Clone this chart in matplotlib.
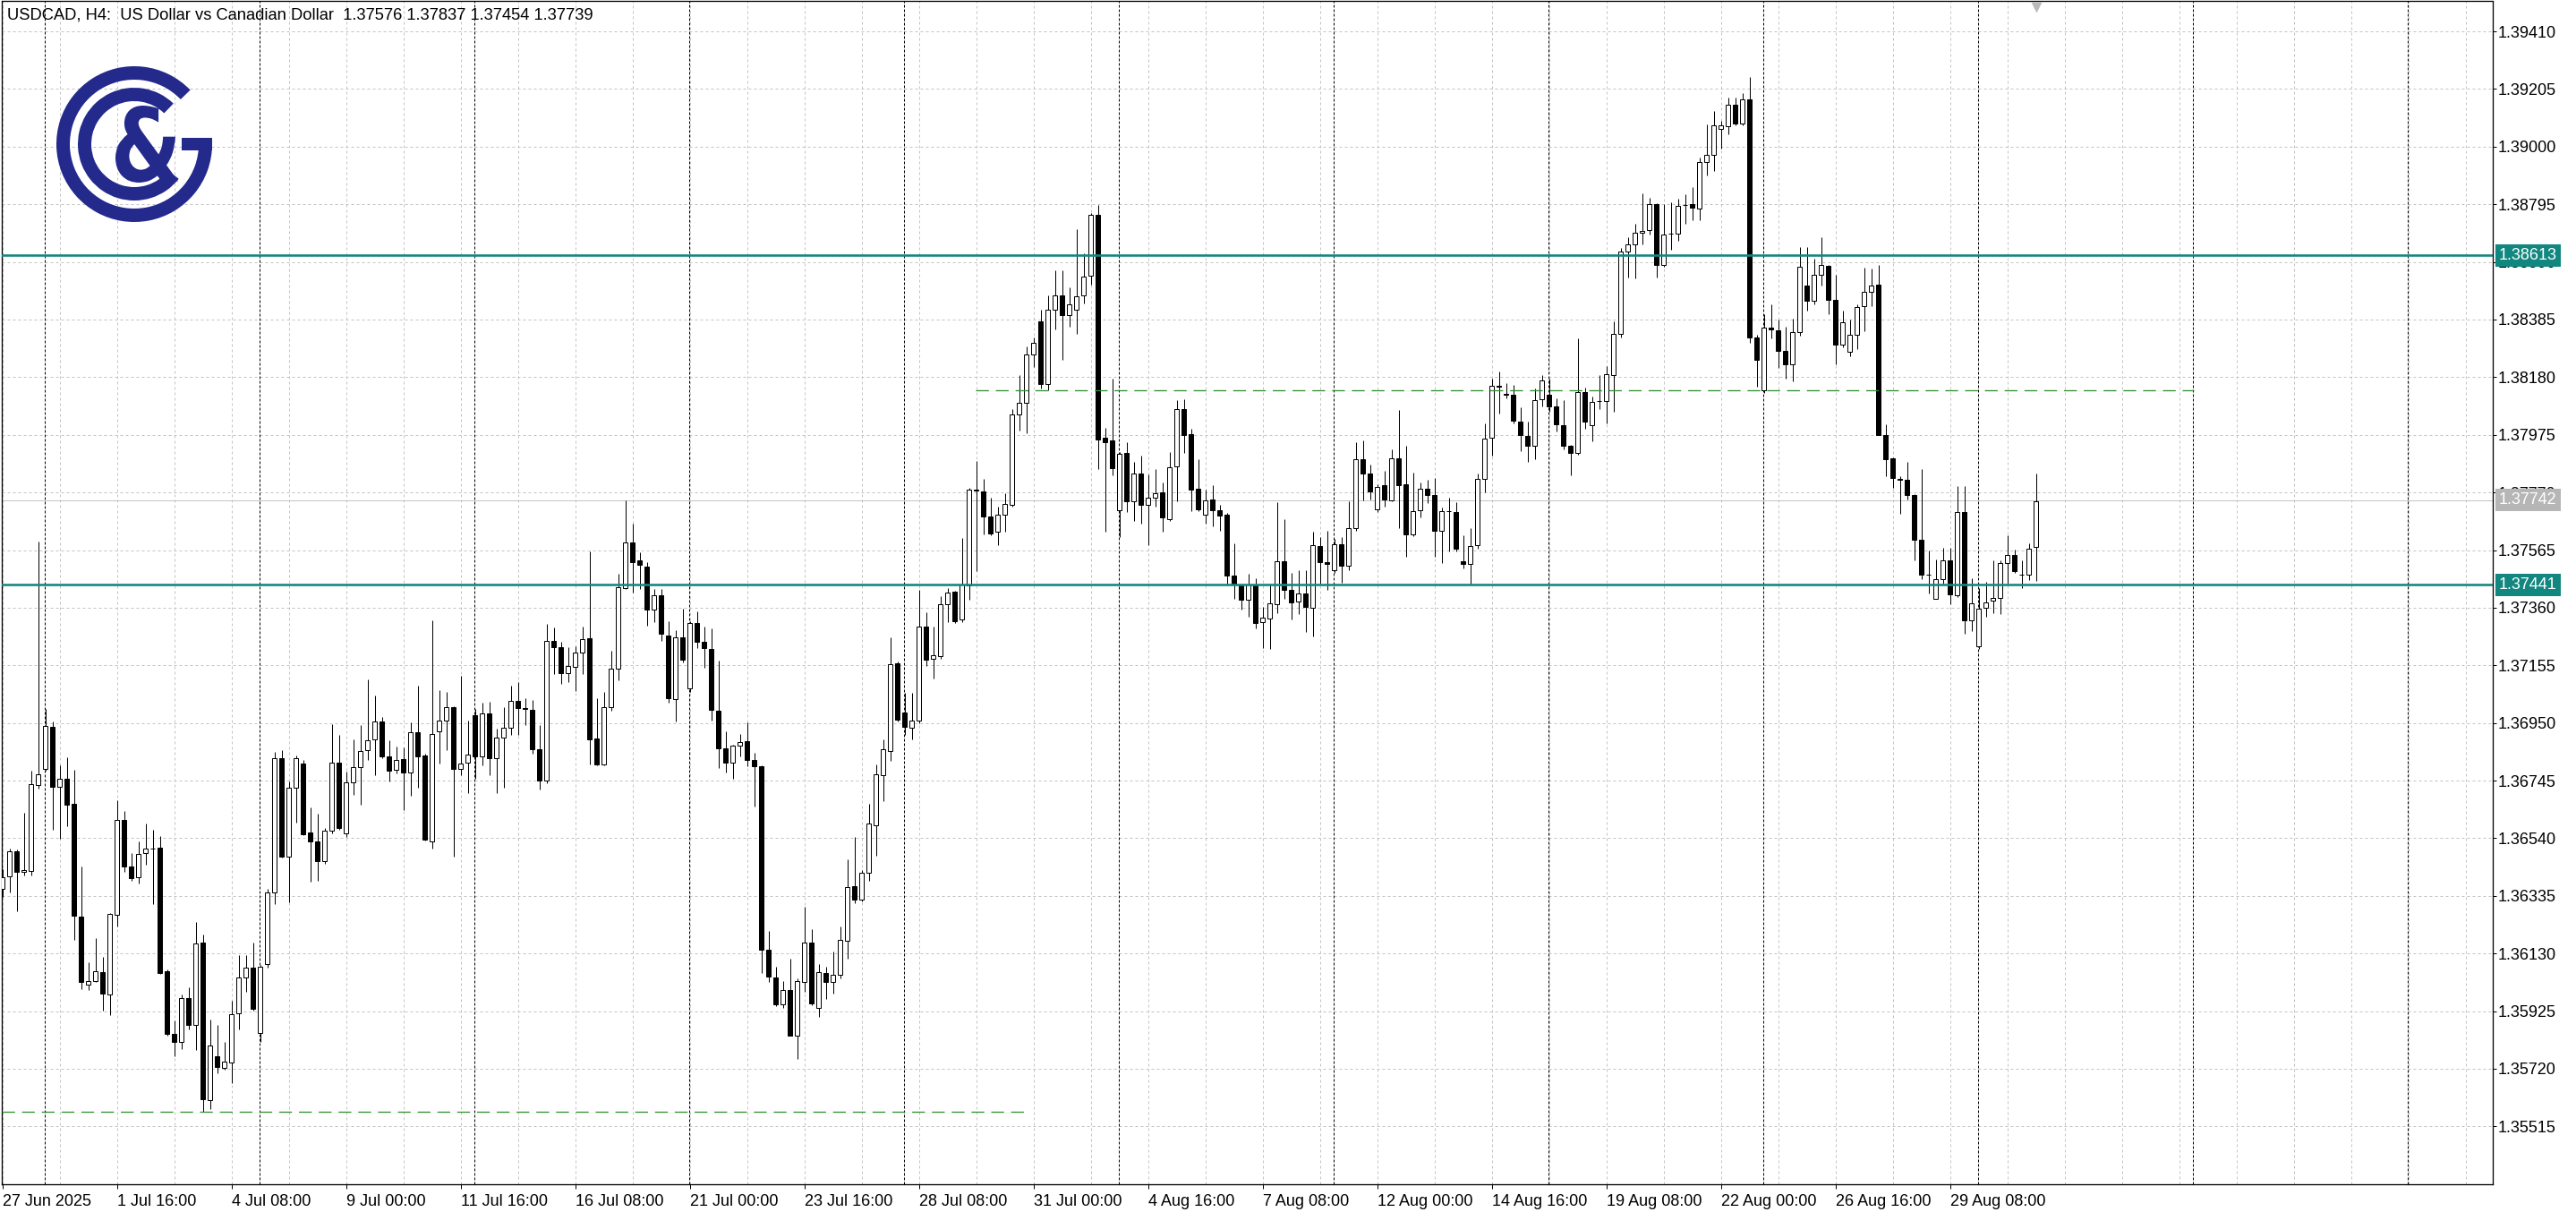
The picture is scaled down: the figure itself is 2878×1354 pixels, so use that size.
import matplotlib
matplotlib.use('Agg')
import matplotlib.pyplot as plt
import numpy as np
from matplotlib.patches import Wedge, Rectangle, PathPatch
from matplotlib.textpath import TextPath
from matplotlib.font_manager import FontProperties
import matplotlib.transforms as mtransforms

plt.rcParams['font.family'] = ['Liberation Sans', 'DejaVu Sans']

# ---------------- data ----------------
title = "USDCAD, H4:  US Dollar vs Canadian Dollar  1.37576 1.37837 1.37454 1.37739"

opens = [
1.36360, 1.36403, 1.36495, 1.36419, 1.36425, 1.36728, 1.36788, 1.36936, 1.36723, 1.36752,
1.36662, 1.36261, 1.36020, 1.36033, 1.36063, 1.35985, 1.36269, 1.36604, 1.36440, 1.36400,
1.36486, 1.36504, 1.36506, 1.36068, 1.35843, 1.35816, 1.35972, 1.35877, 1.36170, 1.35608,
1.35764, 1.35723, 1.35743, 1.35916, 1.36044, 1.36080, 1.35847, 1.36093, 1.36348, 1.36826,
1.36474, 1.36719, 1.36806, 1.36559, 1.36528, 1.36460, 1.36568, 1.36808, 1.36556, 1.36738,
1.36793, 1.36852, 1.36891, 1.36954, 1.36830, 1.36784, 1.36821, 1.36774, 1.36916, 1.36835,
1.36529, 1.36919, 1.36958, 1.37007, 1.36786, 1.36808, 1.36977, 1.36832, 1.36984, 1.36826,
1.36898, 1.36933, 1.37028, 1.37003, 1.36996, 1.36856, 1.36746, 1.37242, 1.37221, 1.37126,
1.37150, 1.37199, 1.37252, 1.36895, 1.36804, 1.37005, 1.37143, 1.37431, 1.37591, 1.37528,
1.37507, 1.37353, 1.37403, 1.37262, 1.37035, 1.37256, 1.37073, 1.37304, 1.37238, 1.37213,
1.36995, 1.36861, 1.36809, 1.36869, 1.36885, 1.36817, 1.36797, 1.36142, 1.36044, 1.35949,
1.35999, 1.35836, 1.36029, 1.36170, 1.35935, 1.36061, 1.36029, 1.36053, 1.36176, 1.36369,
1.36322, 1.36416, 1.36587, 1.36763, 1.36851, 1.37162, 1.36987, 1.36932, 1.36957, 1.37293,
1.37178, 1.37187, 1.37372, 1.37416, 1.37318, 1.37439, 1.37780, 1.37775, 1.37684, 1.37629,
1.37691, 1.37725, 1.38046, 1.38088, 1.38262, 1.38380, 1.38155, 1.38420, 1.38470, 1.38400,
1.38421, 1.38472, 1.38541, 1.38756, 1.37964, 1.37955, 1.37708, 1.37910, 1.37740, 1.37836,
1.37727, 1.37750, 1.37771, 1.37676, 1.37864, 1.38066, 1.37977, 1.37784, 1.37691, 1.37745,
1.37706, 1.37691, 1.37475, 1.37439, 1.37389, 1.37441, 1.37308, 1.37322, 1.37373, 1.37526,
1.37424, 1.37382, 1.37411, 1.37361, 1.37580, 1.37521, 1.37492, 1.37586, 1.37509, 1.37642,
1.37888, 1.37836, 1.37710, 1.37796, 1.37742, 1.37890, 1.37799, 1.37621, 1.37708, 1.37782,
1.37761, 1.37633, 1.37705, 1.37700, 1.37526, 1.37517, 1.37583, 1.37819, 1.37966, 1.38149,
1.38120, 1.38117, 1.38023, 1.37972, 1.37935, 1.38102, 1.38117, 1.38077, 1.38010, 1.37937,
1.37912, 1.38127, 1.38010, 1.38094, 1.38094, 1.38189, 1.38333, 1.38626, 1.38652, 1.38693,
1.38702, 1.38796, 1.38580, 1.38692, 1.38692, 1.38792, 1.38796, 1.38781, 1.38947, 1.38970,
1.39063, 1.39073, 1.39148, 1.39082, 1.39167, 1.38322, 1.38133, 1.38356, 1.38347, 1.38272,
1.38226, 1.38339, 1.38506, 1.38451, 1.38544, 1.38576, 1.38454, 1.38295, 1.38270, 1.38331,
1.38432, 1.38483, 1.38509, 1.37975, 1.37890, 1.37818, 1.37814, 1.37760, 1.37603, 1.37476,
1.37391, 1.37461, 1.37527, 1.37404, 1.37700, 1.37314, 1.37222, 1.37359, 1.37384, 1.37394,
1.37519, 1.37548, 1.37477, 1.37477, 1.37576]

highs = [
1.36430, 1.36502, 1.36500, 1.36632, 1.36780, 1.37594, 1.36999, 1.36954, 1.36798, 1.36828,
1.36784, 1.36439, 1.36099, 1.36185, 1.36118, 1.36275, 1.36674, 1.36638, 1.36486, 1.36528,
1.36592, 1.36571, 1.36548, 1.36072, 1.35893, 1.35984, 1.36011, 1.36242, 1.36197, 1.35895,
1.35875, 1.35814, 1.35962, 1.36124, 1.36124, 1.36169, 1.36090, 1.36360, 1.36848, 1.36854,
1.36741, 1.36833, 1.36818, 1.36650, 1.36626, 1.36575, 1.36946, 1.36906, 1.36778, 1.36893,
1.36944, 1.37105, 1.37047, 1.36972, 1.36888, 1.36866, 1.36863, 1.36951, 1.37084, 1.36840,
1.37315, 1.37066, 1.37059, 1.37010, 1.37119, 1.36958, 1.37000, 1.37021, 1.37024, 1.36930,
1.37006, 1.37082, 1.37096, 1.37038, 1.37031, 1.36944, 1.37301, 1.37291, 1.37238, 1.37221,
1.37224, 1.37294, 1.37560, 1.37038, 1.37059, 1.37206, 1.37480, 1.37742, 1.37658, 1.37557,
1.37521, 1.37427, 1.37427, 1.37311, 1.37280, 1.37357, 1.37311, 1.37346, 1.37294, 1.37287,
1.37172, 1.36920, 1.36872, 1.36910, 1.36952, 1.36843, 1.36800, 1.36209, 1.36083, 1.36033,
1.36112, 1.36040, 1.36296, 1.36217, 1.36091, 1.36083, 1.36138, 1.36226, 1.36464, 1.36545,
1.36427, 1.36663, 1.36802, 1.36893, 1.37254, 1.37170, 1.37058, 1.37058, 1.37422, 1.37343,
1.37293, 1.37402, 1.37431, 1.37420, 1.37607, 1.37785, 1.37881, 1.37819, 1.37752, 1.37721,
1.37768, 1.38066, 1.38188, 1.38290, 1.38320, 1.38420, 1.38470, 1.38560, 1.38560, 1.38500,
1.38708, 1.38620, 1.38764, 1.38793, 1.38000, 1.38174, 1.37915, 1.37950, 1.37879, 1.37901,
1.37833, 1.37854, 1.37805, 1.37913, 1.38097, 1.38102, 1.37995, 1.37888, 1.37779, 1.37796,
1.37725, 1.37697, 1.37589, 1.37441, 1.37481, 1.37464, 1.37362, 1.37447, 1.37734, 1.37674,
1.37484, 1.37492, 1.37492, 1.37629, 1.37612, 1.37634, 1.37606, 1.37612, 1.37739, 1.37950,
1.37955, 1.37870, 1.37800, 1.37847, 1.37922, 1.38064, 1.37935, 1.37842, 1.37807, 1.37816,
1.37822, 1.37715, 1.37752, 1.37736, 1.37617, 1.37643, 1.37837, 1.38017, 1.38176, 1.38199,
1.38159, 1.38151, 1.38073, 1.38023, 1.38139, 1.38186, 1.38176, 1.38105, 1.38098, 1.37940,
1.38318, 1.38142, 1.38111, 1.38186, 1.38220, 1.38379, 1.38639, 1.38677, 1.38727, 1.38834,
1.38818, 1.38800, 1.38796, 1.38803, 1.38815, 1.38830, 1.38855, 1.38960, 1.39079, 1.39127,
1.39092, 1.39174, 1.39174, 1.39190, 1.39247, 1.38330, 1.38403, 1.38440, 1.38385, 1.38360,
1.38387, 1.38642, 1.38642, 1.38602, 1.38679, 1.38580, 1.38544, 1.38417, 1.38385, 1.38440,
1.38571, 1.38566, 1.38580, 1.38013, 1.37895, 1.37829, 1.37879, 1.37765, 1.37853, 1.37564,
1.37532, 1.37572, 1.37572, 1.37792, 1.37792, 1.37465, 1.37431, 1.37451, 1.37527, 1.37527,
1.37617, 1.37566, 1.37530, 1.37590, 1.37837]

lows = [
1.36330, 1.36348, 1.36279, 1.36409, 1.36409, 1.36715, 1.36780, 1.36571, 1.36537, 1.36583,
1.36178, 1.36003, 1.35999, 1.36029, 1.35928, 1.35911, 1.36226, 1.36421, 1.36390, 1.36380,
1.36445, 1.36307, 1.36056, 1.35839, 1.35765, 1.35790, 1.35861, 1.35786, 1.35567, 1.35575,
1.35703, 1.35715, 1.35670, 1.35859, 1.35993, 1.35928, 1.35816, 1.36080, 1.36307, 1.36470,
1.36312, 1.36595, 1.36550, 1.36385, 1.36388, 1.36450, 1.36558, 1.36570, 1.36543, 1.36693,
1.36658, 1.36818, 1.36765, 1.36825, 1.36742, 1.36770, 1.36639, 1.36690, 1.36721, 1.36532,
1.36504, 1.36807, 1.36853, 1.36473, 1.36763, 1.36700, 1.36753, 1.36800, 1.36763, 1.36700,
1.36721, 1.36909, 1.36909, 1.36942, 1.36840, 1.36714, 1.36734, 1.37124, 1.37089, 1.37096,
1.37063, 1.37124, 1.36802, 1.36800, 1.36800, 1.36993, 1.37101, 1.37427, 1.37413, 1.37427,
1.37297, 1.37308, 1.37241, 1.37021, 1.36956, 1.37165, 1.37060, 1.37217, 1.37145, 1.36958,
1.36789, 1.36775, 1.36752, 1.36831, 1.36797, 1.36654, 1.36061, 1.36028, 1.35944, 1.35935,
1.35836, 1.35755, 1.35994, 1.35945, 1.35903, 1.35969, 1.35986, 1.36040, 1.36112, 1.36310,
1.36315, 1.36389, 1.36478, 1.36671, 1.36814, 1.36955, 1.36906, 1.36890, 1.36950, 1.37153,
1.37108, 1.37178, 1.37310, 1.37305, 1.37310, 1.37389, 1.37491, 1.37620, 1.37617, 1.37583,
1.37629, 1.37720, 1.37990, 1.37982, 1.38217, 1.38140, 1.38133, 1.38350, 1.38242, 1.38360,
1.38333, 1.38441, 1.38509, 1.37852, 1.37629, 1.37830, 1.37612, 1.37700, 1.37668, 1.37659,
1.37583, 1.37720, 1.37629, 1.37668, 1.37737, 1.37910, 1.37702, 1.37705, 1.37659, 1.37651,
1.37634, 1.37444, 1.37390, 1.37353, 1.37328, 1.37288, 1.37216, 1.37214, 1.37339, 1.37390,
1.37319, 1.37337, 1.37273, 1.37257, 1.37447, 1.37424, 1.37484, 1.37450, 1.37492, 1.37632,
1.37742, 1.37745, 1.37700, 1.37720, 1.37737, 1.37642, 1.37540, 1.37615, 1.37680, 1.37733,
1.37541, 1.37520, 1.37560, 1.37560, 1.37501, 1.37444, 1.37570, 1.37771, 1.37901, 1.38052,
1.38104, 1.38017, 1.37916, 1.37878, 1.37887, 1.38076, 1.38058, 1.37988, 1.37922, 1.37830,
1.37905, 1.37995, 1.37951, 1.38067, 1.38017, 1.38058, 1.38320, 1.38536, 1.38532, 1.38652,
1.38686, 1.38536, 1.38572, 1.38633, 1.38664, 1.38727, 1.38740, 1.38740, 1.38899, 1.38912,
1.38994, 1.39044, 1.39075, 1.39075, 1.38303, 1.38146, 1.38125, 1.38318, 1.38214, 1.38174,
1.38166, 1.38329, 1.38417, 1.38440, 1.38506, 1.38403, 1.38226, 1.38286, 1.38255, 1.38281,
1.38343, 1.38432, 1.37975, 1.37829, 1.37787, 1.37694, 1.37744, 1.37527, 1.37461, 1.37412,
1.37391, 1.37447, 1.37371, 1.37399, 1.37267, 1.37277, 1.37213, 1.37327, 1.37341, 1.37338,
1.37447, 1.37485, 1.37429, 1.37458, 1.37454]

closes = [
1.36400, 1.36495, 1.36419, 1.36426, 1.36731, 1.36766, 1.36940, 1.36723, 1.36752, 1.36658,
1.36263, 1.36029, 1.36033, 1.36066, 1.35987, 1.36270, 1.36604, 1.36441, 1.36397, 1.36483,
1.36504, 1.36504, 1.36060, 1.35843, 1.35816, 1.35972, 1.35877, 1.36166, 1.35610, 1.35802,
1.35725, 1.35746, 1.35914, 1.36045, 1.36080, 1.35932, 1.36084, 1.36346, 1.36826, 1.36476,
1.36719, 1.36824, 1.36555, 1.36528, 1.36460, 1.36568, 1.36808, 1.36577, 1.36738, 1.36792,
1.36851, 1.36888, 1.36954, 1.36832, 1.36781, 1.36818, 1.36774, 1.36916, 1.36832, 1.36536,
1.36912, 1.36958, 1.37007, 1.36786, 1.36807, 1.36837, 1.36832, 1.36984, 1.36826, 1.36898,
1.36933, 1.37028, 1.37003, 1.37000, 1.36855, 1.36746, 1.37242, 1.37221, 1.37126, 1.37154,
1.37199, 1.37249, 1.36893, 1.36804, 1.37005, 1.37143, 1.37434, 1.37591, 1.37522, 1.37511,
1.37353, 1.37403, 1.37266, 1.37038, 1.37256, 1.37175, 1.37304, 1.37238, 1.37217, 1.36996,
1.36861, 1.36809, 1.36869, 1.36881, 1.36817, 1.36797, 1.36142, 1.36049, 1.35949, 1.35999,
1.35836, 1.36033, 1.36170, 1.35952, 1.36063, 1.36029, 1.36053, 1.36179, 1.36365, 1.36322,
1.36416, 1.36592, 1.36767, 1.36856, 1.37158, 1.36962, 1.36935, 1.36960, 1.37293, 1.37175,
1.37192, 1.37372, 1.37414, 1.37313, 1.37444, 1.37780, 1.37778, 1.37684, 1.37624, 1.37691,
1.37730, 1.38046, 1.38088, 1.38262, 1.38301, 1.38155, 1.38420, 1.38470, 1.38400, 1.38440,
1.38469, 1.38537, 1.38756, 1.37958, 1.37950, 1.37855, 1.37907, 1.37740, 1.37836, 1.37727,
1.37750, 1.37768, 1.37680, 1.37861, 1.38066, 1.37975, 1.37780, 1.37711, 1.37742, 1.37708,
1.37688, 1.37475, 1.37444, 1.37387, 1.37441, 1.37305, 1.37324, 1.37377, 1.37526, 1.37424,
1.37379, 1.37411, 1.37362, 1.37583, 1.37521, 1.37517, 1.37586, 1.37509, 1.37642, 1.37888,
1.37836, 1.37773, 1.37791, 1.37744, 1.37890, 1.37797, 1.37621, 1.37705, 1.37782, 1.37762,
1.37633, 1.37705, 1.37705, 1.37570, 1.37517, 1.37580, 1.37819, 1.37962, 1.38149, 1.38145,
1.38117, 1.38025, 1.37975, 1.37935, 1.38098, 1.38167, 1.38077, 1.38013, 1.37937, 1.37912,
1.38127, 1.38023, 1.38092, 1.38094, 1.38190, 1.38333, 1.38626, 1.38652, 1.38693, 1.38699,
1.38796, 1.38580, 1.38689, 1.38692, 1.38790, 1.38792, 1.38784, 1.38945, 1.38970, 1.39075,
1.39075, 1.39148, 1.39082, 1.39167, 1.38322, 1.38243, 1.38356, 1.38350, 1.38274, 1.38227,
1.38339, 1.38573, 1.38451, 1.38544, 1.38578, 1.38454, 1.38295, 1.38374, 1.38331, 1.38430,
1.38483, 1.38506, 1.37975, 1.37888, 1.37821, 1.37816, 1.37760, 1.37603, 1.37477, 1.37476,
1.37461, 1.37527, 1.37407, 1.37700, 1.37314, 1.37375, 1.37355, 1.37380, 1.37394, 1.37519,
1.37548, 1.37490, 1.37477, 1.37571, 1.37739]

x_labels = ["27 Jun 2025", "1 Jul 16:00", "4 Jul 08:00", "9 Jul 00:00", "11 Jul 16:00",
            "16 Jul 08:00", "21 Jul 00:00", "23 Jul 16:00", "28 Jul 08:00", "31 Jul 00:00",
            "4 Aug 16:00", "7 Aug 08:00", "12 Aug 00:00", "14 Aug 16:00", "19 Aug 08:00",
            "22 Aug 00:00", "26 Aug 16:00", "29 Aug 08:00"]
bars_per_label = 16
week_start_bars = [6, 36, 66, 96, 126, 156, 186, 216, 246, 276, 306, 336]

y_ticks = [1.35515, 1.35720, 1.35925, 1.36130, 1.36335, 1.36540, 1.36745, 1.36950,
           1.37155, 1.37360, 1.37565, 1.37770, 1.37975, 1.38180, 1.38385, 1.38590,
           1.38795, 1.39000, 1.39205, 1.39410]

level_high = 1.38613
level_low = 1.37441
bid_price = 1.37742
green_upper = 1.38132
green_upper_span = (135.9, 306.0)
green_lower = 1.35567
green_lower_span = (-0.15, 143.3)

# ---------------- figure ----------------
W, H, DPI = 2878, 1354, 100
PX = 72.0 / DPI
TEAL = '#11877f'
GRID = '#c3c3c3'
NAVY = '#232a8c'

fig = plt.figure(figsize=(W / DPI, H / DPI), dpi=DPI)
fig.patch.set_facecolor('white')

L, R, T, B = 1.5, 2785.0, 1.5, 1323.0
ax = fig.add_axes([L / W, 1 - B / H, (R - L) / W, (B - T) / H])
ax.set_facecolor('white')
ax.set_xlim(-0.15, 347.8)
ax.set_ylim(1.35309, 1.39517)

# grid
for yv in y_ticks:
    ax.axhline(yv, color=GRID, lw=PX, ls=(0, (3, 3)), zorder=1)
for xv in np.arange(0, 348, 8):
    ax.axvline(xv, color=GRID, lw=PX, ls=(0, (3, 3)), zorder=1)
for m in week_start_bars:
    ax.axvline(m - 0.06, color='black', lw=PX, ls=(0, (3, 2)), zorder=1.5)

# bid line
ax.axhline(bid_price, color='#c4c4c4', lw=PX, zorder=2)

# candles
O = np.array(opens); Hi = np.array(highs); Lo = np.array(lows); C = np.array(closes)
idx = np.arange(len(O))
bull = C >= O
ax.vlines(idx, Lo, Hi, colors='black', linewidth=PX, zorder=3)
ax.bar(idx, np.abs(C - O), bottom=np.minimum(O, C), width=0.62,
       color=np.where(bull, 'white', 'black'), edgecolor='black', linewidth=PX, zorder=4)

# levels
ax.axhline(level_high, color=TEAL, lw=2.6 * PX, zorder=5)
ax.axhline(level_low, color=TEAL, lw=2.6 * PX, zorder=5)
ax.plot(green_upper_span, [green_upper, green_upper], color='#2f8f2f', lw=1.3 * PX,
        ls=(0, (11, 6)), zorder=5)
ax.plot(green_lower_span, [green_lower, green_lower], color='#2f8f2f', lw=1.3 * PX,
        ls=(0, (11, 6)), zorder=5)

# shift marker at the top
ax.plot([idx[-1]], [0.995], marker='v', markersize=9, color='#b9b9b9', mec='none',
        transform=ax.get_xaxis_transform(), clip_on=False, zorder=6)

# axes / ticks
for s in ax.spines.values():
    s.set_color('black')
    s.set_linewidth(1.3 * PX)
ax.yaxis.tick_right()
ax.set_yticks(y_ticks)
ax.set_yticklabels([f"{v:.5f}" for v in y_ticks])
ax.tick_params(axis='y', direction='out', length=4 * PX, width=PX, pad=2 * PX,
               labelsize=13, colors='black')
ax.set_xticks(np.arange(len(x_labels)) * bars_per_label)
ax.set_xticklabels(x_labels, ha='left')
ax.tick_params(axis='x', direction='out', length=5 * PX, width=PX, pad=6 * PX,
               labelsize=13, colors='black')

# price boxes on the axis
axw = R - L
def price_box(price, txt, fc):
    ax.text(1 + 7.0 / axw, price, txt, transform=ax.get_yaxis_transform(),
            ha='left', va='center', fontsize=13, color='white', clip_on=False, zorder=10,
            bbox=dict(boxstyle='square,pad=0.22', fc=fc, ec='none'))

price_box(level_high, f"{level_high:.5f}", TEAL)
price_box(level_low, f"{level_low:.5f}", TEAL)
price_box(bid_price, f"{bid_price:.5f}", '#b6b6b6')

# title
fig.text(8 / W, 1 - 17 / H, title, ha='left', va='center', fontsize=13.2, color='black')

# logo (overlay in pixel coordinates, y downward)
ov = fig.add_axes([0, 0, 1, 1], zorder=5)
ov.set_xlim(0, W)
ov.set_ylim(H, 0)
ov.axis('off')
ov.patch.set_alpha(0)
cx, cy = 150, 161
ov.add_patch(Wedge((cx, cy), 87, -360, -44, width=15, color=NAVY, lw=0))
ov.add_patch(Rectangle((203, 154), 34, 14, color=NAVY, lw=0))
ov.add_patch(Wedge((cx, cy), 63, -322, -46, width=15, color=NAVY, lw=0))
amp = TextPath((0, 0), '&', size=100, prop=FontProperties(family='DejaVu Sans', weight='bold'))
bb = amp.get_extents()
amp_tr = (mtransforms.Affine2D().translate(-bb.x0, -bb.y0)
          .scale(70.0 / bb.width, -86.0 / bb.height).translate(129, 204))
ov.add_patch(PathPatch(amp_tr.transform_path(amp), color=NAVY, lw=0))

fig.savefig('out.png', dpi=DPI, facecolor='white')
